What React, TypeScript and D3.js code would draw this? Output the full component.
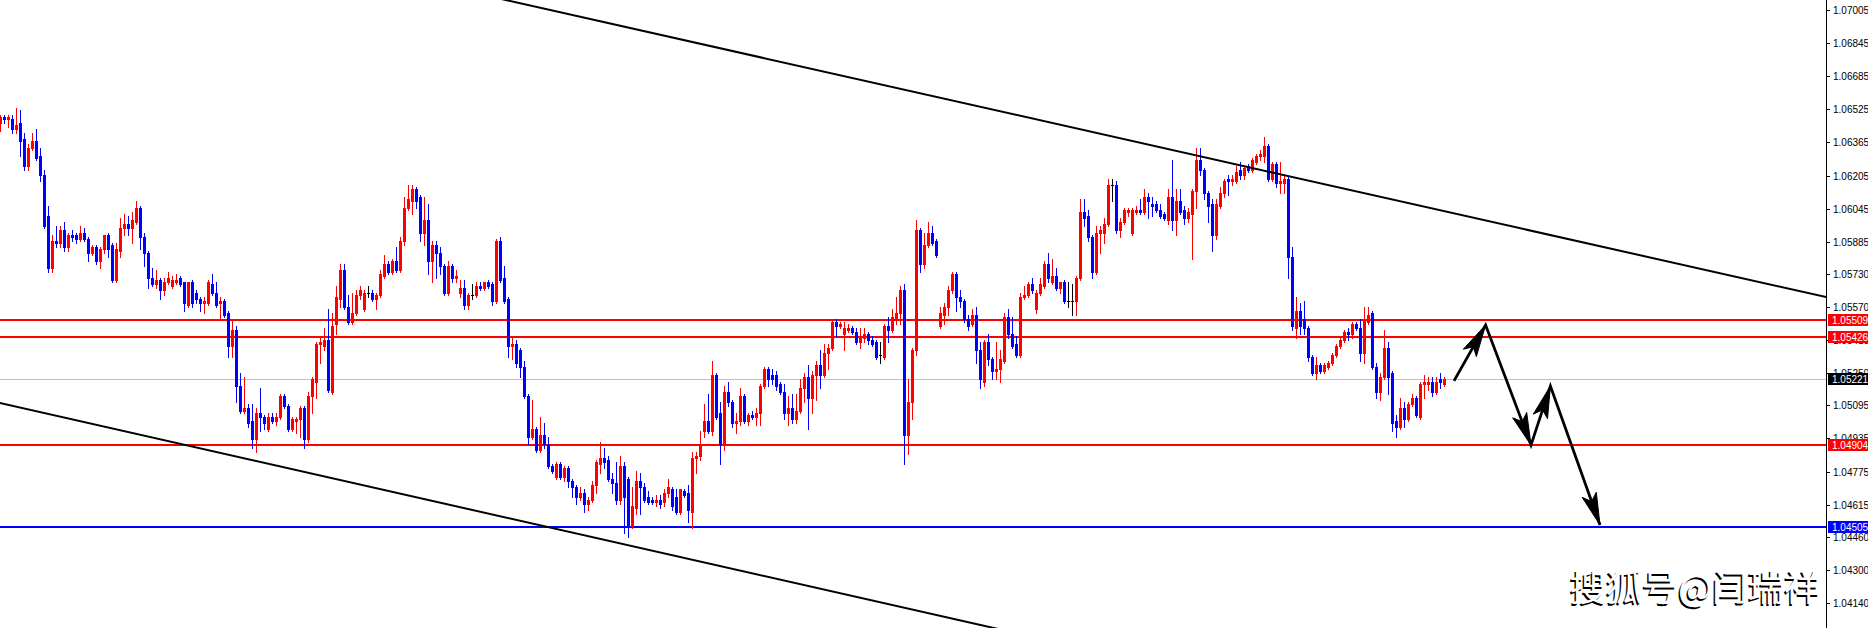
import React from 'react';
import * as d3 from 'd3';

const W = 1868;
const H = 628;
const AXIS_X = 1826;

// OHLC of each bar (EURUSD)
const opens = [
1.0646,1.0649,1.0648,1.0648,1.0643,1.0646,1.0638,1.0625,1.0634,1.0637,
1.0630,1.0621,1.0601,1.0576,1.0589,1.0588,1.0594,1.0586,1.0592,1.0592,
1.0590,1.0593,1.0590,1.0583,1.0586,1.0579,1.0585,1.0592,1.0587,1.0570,
1.0584,1.0595,1.0597,1.0595,1.0598,1.0605,1.0591,1.0583,1.0571,1.0568,
1.0570,1.0565,1.0569,1.0567,1.0569,1.0571,1.0569,1.0558,1.0569,1.0564,
1.0561,1.0559,1.0559,1.0568,1.0564,1.0559,1.0560,1.0554,1.0538,1.0546,
1.0519,1.0507,1.0508,1.0502,1.0493,1.0506,1.0504,1.0498,1.0504,1.0502,
1.0504,1.0514,1.0509,1.0498,1.0502,1.0503,1.0508,1.0493,1.0514,1.0521,
1.0539,1.0538,1.0541,1.0516,1.0549,1.0561,1.0575,1.0557,1.0550,1.0554,
1.0563,1.0556,1.0564,1.0564,1.0561,1.0563,1.0572,1.0578,1.0574,1.0579,
1.0575,1.0589,1.0605,1.0608,1.0614,1.0610,1.0593,1.0599,1.0579,1.0587,
1.0583,1.0577,1.0564,1.0577,1.0571,1.0564,1.0566,1.0558,1.0563,1.0563,
1.0567,1.0566,1.0569,1.0568,1.0560,1.0589,1.0571,1.0561,1.0538,1.0539,
1.0536,1.0528,1.0514,1.0494,1.0498,1.0488,1.0495,1.0491,1.0480,1.0475,
1.0481,1.0475,1.0479,1.0473,1.0470,1.0465,1.0467,1.0462,1.0464,1.0471,
1.0481,1.0484,1.0483,1.0474,1.0472,1.0464,1.0480,1.0474,1.0451,1.0460,
1.0473,1.0470,1.0465,1.0464,1.0463,1.0464,1.0463,1.0467,1.0469,1.0465,
1.0458,1.0468,1.0467,1.0458,1.0484,1.0485,1.0497,1.0502,1.0497,1.0524,
1.0506,1.0491,1.0516,1.0511,1.0501,1.0502,1.0514,1.0502,1.0505,1.0504,
1.0506,1.0519,1.0527,1.0524,1.0524,1.0520,1.0516,1.0506,1.0508,1.0503,
1.0507,1.0518,1.0523,1.0513,1.0524,1.0529,1.0524,1.0535,1.0537,1.0550,
1.0548,1.0544,1.0546,1.0547,1.0545,1.0540,1.0542,1.0544,1.0541,1.0540,
1.0534,1.0533,1.0548,1.0546,1.0551,1.0554,1.0565,1.0495,1.0511,1.0536,
1.0594,1.0578,1.0587,1.0593,1.0589,1.0548,1.0553,1.0557,1.0565,1.0573,
1.0562,1.0560,1.0551,1.0549,1.0553,1.0536,1.0521,1.0540,1.0532,1.0526,
1.0527,1.0531,1.0552,1.0544,1.0539,1.0534,1.0562,1.0563,1.0568,1.0556,
1.0564,1.0567,1.0578,1.0569,1.0572,1.0566,1.0569,1.0560,1.0560,1.0560,
1.0571,1.0603,1.0601,1.0591,1.0574,1.0593,1.0593,1.0597,1.0616,1.0616,
1.0594,1.0598,1.0603,1.0593,1.0603,1.0604,1.0603,1.0610,1.0607,1.0607,
1.0604,1.0602,1.0599,1.0610,1.0599,1.0608,1.0604,1.0600,1.0602,1.0613,
1.0628,1.0623,1.0612,1.0607,1.0592,1.0606,1.0612,1.0619,1.0618,1.0618,
1.0623,1.0621,1.0625,1.0623,1.0627,1.0630,1.0630,1.0635,1.0619,1.0626,
1.0617,1.0617,1.0619,1.0581,1.0547,1.0555,1.0551,1.0547,1.0533,1.0525,
1.0529,1.0526,1.0528,1.0530,1.0534,1.0538,1.0541,1.0545,1.0544,1.0549,
1.0547,1.0535,1.0550,1.0554,1.0528,1.0516,1.0523,1.0537,1.0525,1.0502,
1.0499,1.0508,1.0503,1.0510,1.0513,1.0504,1.0520,1.0520,1.0521,1.0516,
1.0522,1.0520,
];

const highs = [
1.0650,1.0650,1.0650,1.0650,1.0653,1.0652,1.0641,1.0636,1.0641,1.0643,
1.0634,1.0623,1.0606,1.0592,1.0596,1.0596,1.0598,1.0593,1.0594,1.0593,
1.0596,1.0595,1.0591,1.0587,1.0587,1.0586,1.0592,1.0593,1.0588,1.0588,
1.0600,1.0602,1.0601,1.0603,1.0608,1.0606,1.0593,1.0584,1.0576,1.0575,
1.0571,1.0571,1.0574,1.0572,1.0573,1.0572,1.0569,1.0569,1.0570,1.0565,
1.0562,1.0562,1.0570,1.0573,1.0569,1.0562,1.0561,1.0555,1.0551,1.0548,
1.0525,1.0523,1.0510,1.0510,1.0508,1.0518,1.0505,1.0506,1.0506,1.0506,
1.0515,1.0515,1.0510,1.0504,1.0504,1.0509,1.0509,1.0516,1.0523,1.0540,
1.0543,1.0547,1.0556,1.0554,1.0567,1.0578,1.0578,1.0563,1.0564,1.0565,
1.0567,1.0565,1.0567,1.0565,1.0564,1.0575,1.0582,1.0579,1.0580,1.0586,
1.0591,1.0610,1.0616,1.0616,1.0615,1.0611,1.0610,1.0607,1.0589,1.0589,
1.0586,1.0578,1.0579,1.0578,1.0575,1.0570,1.0570,1.0564,1.0568,1.0569,
1.0569,1.0569,1.0570,1.0569,1.0590,1.0591,1.0577,1.0562,1.0542,1.0541,
1.0537,1.0531,1.0515,1.0512,1.0499,1.0504,1.0501,1.0494,1.0481,1.0482,
1.0482,1.0480,1.0480,1.0474,1.0471,1.0470,1.0469,1.0465,1.0473,1.0483,
1.0492,1.0489,1.0485,1.0477,1.0482,1.0485,1.0482,1.0475,1.0470,1.0478,
1.0477,1.0472,1.0468,1.0465,1.0466,1.0466,1.0469,1.0474,1.0470,1.0469,
1.0469,1.0469,1.0471,1.0487,1.0487,1.0497,1.0510,1.0515,1.0531,1.0525,
1.0511,1.0519,1.0521,1.0512,1.0506,1.0518,1.0515,1.0506,1.0507,1.0508,
1.0520,1.0528,1.0528,1.0527,1.0526,1.0521,1.0520,1.0514,1.0515,1.0515,
1.0522,1.0525,1.0529,1.0526,1.0531,1.0536,1.0539,1.0539,1.0551,1.0551,
1.0550,1.0550,1.0549,1.0548,1.0547,1.0547,1.0547,1.0545,1.0543,1.0541,
1.0540,1.0549,1.0552,1.0556,1.0562,1.0567,1.0568,1.0522,1.0537,1.0599,
1.0595,1.0593,1.0598,1.0596,1.0590,1.0557,1.0559,1.0567,1.0574,1.0574,
1.0565,1.0561,1.0553,1.0556,1.0557,1.0540,1.0541,1.0544,1.0533,1.0540,
1.0536,1.0554,1.0556,1.0552,1.0543,1.0564,1.0567,1.0569,1.0571,1.0565,
1.0571,1.0579,1.0583,1.0580,1.0576,1.0569,1.0570,1.0569,1.0568,1.0572,
1.0609,1.0609,1.0604,1.0592,1.0596,1.0596,1.0600,1.0619,1.0619,1.0618,
1.0600,1.0605,1.0605,1.0605,1.0606,1.0609,1.0614,1.0612,1.0610,1.0608,
1.0607,1.0603,1.0614,1.0628,1.0614,1.0614,1.0606,1.0605,1.0614,1.0634,
1.0634,1.0624,1.0613,1.0609,1.0609,1.0615,1.0619,1.0621,1.0621,1.0625,
1.0627,1.0625,1.0626,1.0629,1.0631,1.0633,1.0639,1.0636,1.0627,1.0627,
1.0627,1.0621,1.0620,1.0586,1.0562,1.0559,1.0560,1.0548,1.0534,1.0533,
1.0530,1.0530,1.0531,1.0535,1.0539,1.0542,1.0546,1.0547,1.0550,1.0550,
1.0551,1.0557,1.0557,1.0555,1.0530,1.0525,1.0546,1.0540,1.0526,1.0505,
1.0513,1.0511,1.0511,1.0515,1.0514,1.0521,1.0524,1.0523,1.0523,1.0523,
1.0525,1.0523,
];

const lows = [
1.0642,1.0646,1.0644,1.0641,1.0641,1.0630,1.0623,1.0623,1.0633,1.0628,
1.0618,1.0595,1.0574,1.0574,1.0586,1.0586,1.0584,1.0584,1.0589,1.0588,
1.0589,1.0589,1.0579,1.0582,1.0578,1.0576,1.0583,1.0581,1.0569,1.0569,
1.0581,1.0592,1.0592,1.0588,1.0597,1.0585,1.0577,1.0566,1.0567,1.0566,
1.0561,1.0563,1.0568,1.0566,1.0568,1.0567,1.0555,1.0557,1.0557,1.0559,
1.0555,1.0554,1.0558,1.0563,1.0557,1.0551,1.0552,1.0533,1.0533,1.0511,
1.0506,1.0506,1.0499,1.0489,1.0487,1.0497,1.0498,1.0497,1.0501,1.0500,
1.0503,1.0508,1.0497,1.0497,1.0496,1.0494,1.0489,1.0492,1.0506,1.0513,
1.0530,1.0536,1.0516,1.0515,1.0544,1.0557,1.0556,1.0549,1.0549,1.0553,
1.0561,1.0555,1.0562,1.0560,1.0556,1.0562,1.0571,1.0573,1.0573,1.0574,
1.0574,1.0587,1.0604,1.0602,1.0605,1.0589,1.0587,1.0573,1.0569,1.0571,
1.0573,1.0563,1.0563,1.0569,1.0569,1.0562,1.0556,1.0556,1.0561,1.0562,
1.0565,1.0565,1.0566,1.0558,1.0559,1.0569,1.0559,1.0533,1.0532,1.0528,
1.0523,1.0513,1.0491,1.0493,1.0487,1.0487,1.0489,1.0479,1.0477,1.0474,
1.0474,1.0473,1.0470,1.0465,1.0462,1.0464,1.0458,1.0459,1.0463,1.0467,
1.0477,1.0479,1.0473,1.0467,1.0462,1.0462,1.0448,1.0446,1.0450,1.0457,
1.0457,1.0463,1.0462,1.0462,1.0461,1.0460,1.0461,1.0465,1.0459,1.0457,
1.0457,1.0465,1.0453,1.0450,1.0477,1.0483,1.0494,1.0496,1.0495,1.0503,
1.0481,1.0488,1.0509,1.0499,1.0496,1.0500,1.0501,1.0500,1.0503,1.0500,
1.0500,1.0518,1.0519,1.0520,1.0517,1.0515,1.0503,1.0500,1.0501,1.0501,
1.0506,1.0511,1.0498,1.0506,1.0512,1.0518,1.0523,1.0527,1.0536,1.0543,
1.0547,1.0536,1.0545,1.0544,1.0539,1.0537,1.0540,1.0539,1.0538,1.0532,
1.0530,1.0532,1.0540,1.0545,1.0549,1.0549,1.0481,1.0486,1.0503,1.0534,
1.0574,1.0576,1.0586,1.0587,1.0581,1.0547,1.0549,1.0553,1.0564,1.0555,
1.0557,1.0550,1.0546,1.0548,1.0530,1.0518,1.0519,1.0529,1.0522,1.0522,
1.0521,1.0530,1.0542,1.0537,1.0533,1.0533,1.0561,1.0562,1.0564,1.0554,
1.0563,1.0566,1.0569,1.0568,1.0565,1.0564,1.0559,1.0557,1.0553,1.0553,
1.0570,1.0596,1.0589,1.0571,1.0573,1.0583,1.0588,1.0596,1.0608,1.0593,
1.0591,1.0597,1.0601,1.0592,1.0602,1.0602,1.0602,1.0600,1.0601,1.0603,
1.0600,1.0599,1.0597,1.0594,1.0592,1.0602,1.0597,1.0598,1.0580,1.0605,
1.0621,1.0609,1.0598,1.0584,1.0590,1.0605,1.0610,1.0611,1.0616,1.0617,
1.0619,1.0619,1.0622,1.0622,1.0626,1.0628,1.0627,1.0618,1.0618,1.0615,
1.0612,1.0612,1.0571,1.0546,1.0542,1.0544,1.0544,1.0531,1.0524,1.0522,
1.0525,1.0525,1.0527,1.0529,1.0533,1.0537,1.0540,1.0541,1.0542,1.0546,
1.0531,1.0530,1.0549,1.0527,1.0513,1.0512,1.0522,1.0515,1.0497,1.0494,
1.0498,1.0499,1.0502,1.0509,1.0504,1.0503,1.0513,1.0517,1.0514,1.0515,
1.0518,1.0519,
];

const closes = [
1.0649,1.0648,1.0649,1.0643,1.0645,1.0637,1.0625,1.0634,1.0637,1.0629,
1.0621,1.0596,1.0576,1.0589,1.0588,1.0594,1.0586,1.0592,1.0591,1.0590,
1.0593,1.0590,1.0583,1.0586,1.0579,1.0585,1.0592,1.0585,1.0570,1.0585,
1.0595,1.0597,1.0595,1.0599,1.0605,1.0591,1.0583,1.0571,1.0568,1.0570,
1.0565,1.0569,1.0571,1.0570,1.0570,1.0568,1.0559,1.0569,1.0559,1.0561,
1.0559,1.0560,1.0569,1.0564,1.0558,1.0560,1.0553,1.0538,1.0546,1.0519,
1.0507,1.0508,1.0501,1.0493,1.0506,1.0504,1.0501,1.0504,1.0502,1.0504,
1.0514,1.0509,1.0498,1.0503,1.0503,1.0508,1.0493,1.0514,1.0522,1.0539,
1.0540,1.0541,1.0517,1.0548,1.0562,1.0575,1.0557,1.0550,1.0554,1.0563,
1.0565,1.0564,1.0564,1.0561,1.0563,1.0573,1.0578,1.0574,1.0579,1.0575,
1.0589,1.0605,1.0609,1.0614,1.0608,1.0593,1.0599,1.0579,1.0587,1.0583,
1.0577,1.0564,1.0577,1.0571,1.0572,1.0566,1.0558,1.0563,1.0563,1.0567,
1.0566,1.0569,1.0567,1.0560,1.0589,1.0570,1.0560,1.0538,1.0539,1.0530,
1.0528,1.0514,1.0494,1.0498,1.0488,1.0495,1.0491,1.0480,1.0478,1.0481,
1.0475,1.0479,1.0473,1.0470,1.0465,1.0467,1.0462,1.0464,1.0471,1.0482,
1.0484,1.0482,1.0474,1.0472,1.0464,1.0480,1.0465,1.0451,1.0461,1.0473,
1.0470,1.0464,1.0463,1.0463,1.0464,1.0462,1.0467,1.0470,1.0461,1.0458,
1.0469,1.0466,1.0459,1.0484,1.0485,1.0490,1.0502,1.0497,1.0524,1.0504,
1.0491,1.0516,1.0511,1.0501,1.0502,1.0514,1.0502,1.0505,1.0504,1.0506,
1.0519,1.0527,1.0522,1.0522,1.0519,1.0516,1.0506,1.0508,1.0503,1.0507,
1.0518,1.0523,1.0513,1.0524,1.0529,1.0524,1.0535,1.0537,1.0550,1.0548,
1.0549,1.0547,1.0547,1.0545,1.0540,1.0543,1.0544,1.0541,1.0539,1.0533,
1.0534,1.0548,1.0546,1.0552,1.0554,1.0565,1.0495,1.0511,1.0536,1.0594,
1.0578,1.0587,1.0593,1.0588,1.0582,1.0554,1.0557,1.0565,1.0573,1.0562,
1.0560,1.0551,1.0548,1.0553,1.0536,1.0522,1.0540,1.0532,1.0526,1.0527,
1.0532,1.0552,1.0544,1.0538,1.0534,1.0562,1.0563,1.0568,1.0565,1.0564,
1.0568,1.0578,1.0571,1.0572,1.0566,1.0569,1.0560,1.0560,1.0560,1.0571,
1.0603,1.0600,1.0591,1.0574,1.0593,1.0594,1.0597,1.0616,1.0616,1.0594,
1.0598,1.0604,1.0604,1.0604,1.0604,1.0603,1.0610,1.0608,1.0606,1.0604,
1.0601,1.0600,1.0610,1.0599,1.0608,1.0603,1.0600,1.0603,1.0613,1.0628,
1.0623,1.0612,1.0606,1.0592,1.0607,1.0612,1.0618,1.0618,1.0619,1.0622,
1.0621,1.0624,1.0623,1.0628,1.0630,1.0631,1.0635,1.0619,1.0626,1.0617,
1.0618,1.0619,1.0581,1.0548,1.0555,1.0548,1.0547,1.0533,1.0525,1.0529,
1.0526,1.0529,1.0530,1.0534,1.0538,1.0541,1.0545,1.0544,1.0549,1.0547,
1.0535,1.0551,1.0553,1.0528,1.0516,1.0523,1.0537,1.0523,1.0501,1.0499,
1.0508,1.0503,1.0510,1.0513,1.0505,1.0520,1.0521,1.0521,1.0516,1.0521,
1.0521,1.05221,
];

// Price axis
const priceTicks = [1.07005, 1.06845, 1.06685, 1.06525, 1.06365, 1.06205, 1.06045, 1.05885, 1.0573, 1.0557,
  1.0541, 1.0525, 1.05095, 1.04935, 1.04775, 1.04615, 1.0446, 1.043, 1.0414];
const priceTickLabels = ['1.07005', '1.06845', '1.06685', '1.06525', '1.06365', '1.06205', '1.06045', '1.05885', '1.05730', '1.05570',
  '1.05410', '1.05250', '1.05095', '1.04935', '1.04775', '1.04615', '1.04460', '1.04300', '1.04140'];

// Horizontal levels
const resistanceLevels = [1.05509, 1.05426, 1.04904];
const resistanceLabels = ['1.05509', '1.05426', '1.04904'];
const supportLevel = 1.04505;
const supportLabel = '1.04505';
const lastPrice = 1.05221;
const lastLabel = '1.05221';

// Channel trend lines: [bar index, price]
const upperTrendBars = [126.5, 456.5];
const upperTrendPrices = [1.07053, 1.05618];
const lowerTrendBars = [0, 248.5];
const lowerTrendPrices = [1.05106, 1.04019];

// Forecast zigzag arrows
const forecastBars = [363.5, 371.4, 382.75, 387.6, 400];
const forecastPrices = [1.05213, 1.05483, 1.04903, 1.05188, 1.04517];

const watermark = '搜狐号@闫瑞祥';

const UP = '#FF0000';
const DOWN = '#0000FF';

export default function App() {
  const x = d3.scaleLinear().domain([0, 361]).range([0, 1444]);
  const y = d3.scaleLinear().domain([1.0414, 1.07005]).range([603, 10]);
  const font = "'Liberation Sans', Arial, sans-serif";

  const candles = opens.map((o, i) => {
    const c = closes[i];
    const h = Math.max(highs[i], o, c);
    const l = Math.min(lows[i], o, c);
    const cx = Math.round(x(i));
    const yo = Math.round(y(o));
    const yc = Math.round(y(c));
    const yh = Math.round(y(h));
    const yl = Math.round(y(l));
    const top = Math.min(yo, yc);
    const bot = Math.max(yo, yc);
    const color = c > o ? UP : c < o ? DOWN : '#000000';
    return (
      <g key={i} fill={color}>
        <rect x={cx} y={yh} width={1} height={Math.max(1, yl - yh + 1)} />
        <rect x={cx - 1} y={top} width={3} height={Math.max(1, bot - top + (bot > top ? 1 : 0))} />
      </g>
    );
  });

  const lineThrough = (bars: number[], prices: number[]) => {
    const x1 = x(bars[0]), y1 = y(prices[0]);
    const x2 = x(bars[1]), y2 = y(prices[1]);
    const k = (y2 - y1) / (x2 - x1);
    const xa = -50, xb = AXIS_X + 50;
    return { x1: xa, y1: y1 + k * (xa - x1), x2: xb, y2: y1 + k * (xb - x1) };
  };
  const up = lineThrough(upperTrendBars, upperTrendPrices);
  const lo = lineThrough(lowerTrendBars, lowerTrendPrices);

  const pts = forecastBars.map((b, i) => [x(b), y(forecastPrices[i])] as [number, number]);
  const heads = pts.slice(1).map((p, i) => {
    const s = pts[i];
    const dx = p[0] - s[0], dy = p[1] - s[1];
    const len = Math.hypot(dx, dy);
    const ux = dx / len, uy = dy / len;
    const L = 32, Wd = 7.5;
    const bx = p[0] - ux * L, by = p[1] - uy * L;
    const nx = -uy, ny = ux;
    const mx = p[0] - ux * (L * 0.78), my = p[1] - uy * (L * 0.78);
    return `M${p[0]},${p[1]} L${bx + nx * Wd},${by + ny * Wd} L${mx},${my} L${bx - nx * Wd},${by - ny * Wd} Z`;
  });

  const box = (price: number, label: string, color: string, key: string) => {
    const yy = Math.round(y(price));
    return (
      <g key={key}>
        <rect x={AXIS_X + 2} y={yy - 6} width={W - AXIS_X - 2} height={12} fill={color} />
        <text x={AXIS_X + 6} y={yy + 4} fill="#FFFFFF" fontSize={10} fontFamily={font}>{label}</text>
      </g>
    );
  };

  return (
    <div style={{ position: 'fixed', left: 0, top: 0, width: W, height: H, background: '#FFFFFF' }}>
      <svg width={W} height={H} style={{ display: 'block' }}>
        <defs>
          <clipPath id="plot">
            <rect x={0} y={0} width={AXIS_X} height={H} />
          </clipPath>
        </defs>
        <rect x={0} y={0} width={W} height={H} fill="#FFFFFF" />
        <g clipPath="url(#plot)">
          <line x1={0} x2={AXIS_X} y1={Math.round(y(lastPrice)) + 0.5} y2={Math.round(y(lastPrice)) + 0.5} stroke="#C0C0C0" strokeWidth={1} />
          {resistanceLevels.map((p, i) => (
            <line key={i} x1={0} x2={AXIS_X} y1={Math.round(y(p))} y2={Math.round(y(p))} stroke="#FF0000" strokeWidth={2} />
          ))}
          <line x1={0} x2={AXIS_X} y1={Math.round(y(supportLevel))} y2={Math.round(y(supportLevel))} stroke="#0000FF" strokeWidth={2} />
          {candles}
          <line {...up} stroke="#000000" strokeWidth={2} />
          <line {...lo} stroke="#000000" strokeWidth={2} />
          <polyline points={pts.map(p => p.join(',')).join(' ')} fill="none" stroke="#000000" strokeWidth={2.8} strokeLinejoin="miter" />
          {heads.map((d, i) => <path key={i} d={d} fill="#000000" stroke="#000000" strokeWidth={1} />)}
        </g>
        <line x1={AXIS_X + 0.5} x2={AXIS_X + 0.5} y1={0} y2={H} stroke="#000000" strokeWidth={1} />
        {priceTicks.map((v, i) => {
          const yy = Math.round(y(v));
          return (
            <g key={i}>
              <line x1={AXIS_X} x2={AXIS_X + 4} y1={yy + 0.5} y2={yy + 0.5} stroke="#000000" />
              <text x={AXIS_X + 7} y={yy + 4} fontSize={10} fontFamily={font} fill="#000000">{priceTickLabels[i]}</text>
            </g>
          );
        })}
        {resistanceLevels.map((p, i) => box(p, resistanceLabels[i], '#FF0000', 'r' + i))}
        {box(lastPrice, lastLabel, '#000000', 'last')}
        {box(supportLevel, supportLabel, '#0000FF', 'sup')}
        <g fontFamily="'Noto Sans CJK SC', sans-serif" fontSize={36} textAnchor="end">
          <text x={1818.5} y={602.5} fill="#000000">{watermark}</text>
          <text x={1820} y={601} fill="#FFFFFF">{watermark}</text>
        </g>
      </svg>
    </div>
  );
}
